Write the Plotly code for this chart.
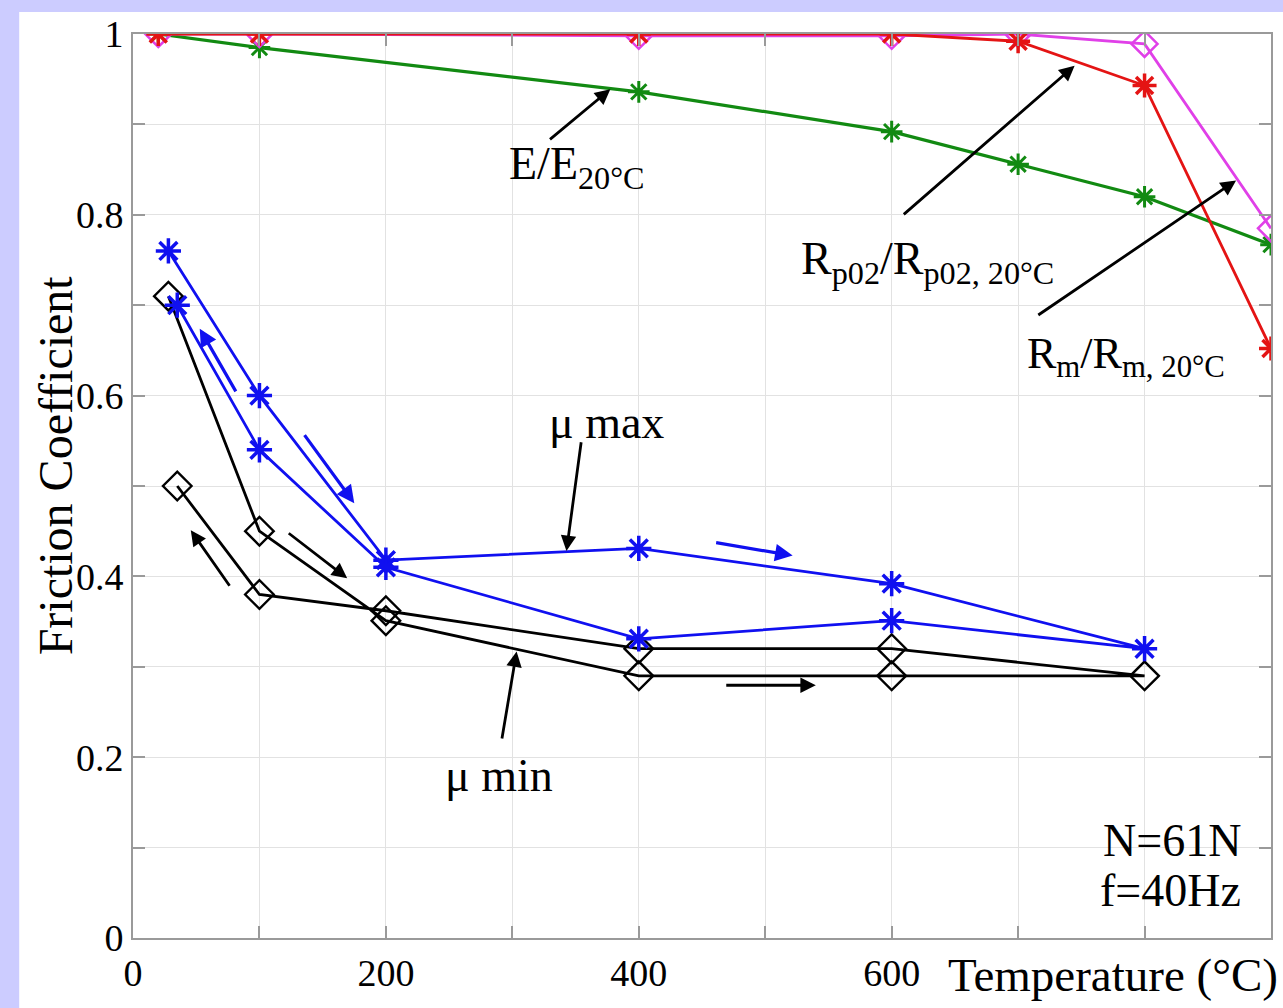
import plotly.graph_objects as go

# ---------------- data ----------------
temp_props = [20, 100, 400, 600, 700, 800, 900]
E_ratio = [1.0, 0.985, 0.936, 0.892, 0.856, 0.820, 0.767]
Rp02_ratio = [1.0, 1.0, 1.0, 1.0, 0.992, 0.943, 0.652]
Rm_ratio = [1.0, 1.0, 0.998, 0.998, 1.0, 0.989, 0.785]

mu_max_T = [28, 100, 200, 400, 600, 800, 600, 400, 200, 100, 35]
mu_max = [0.76, 0.60, 0.418, 0.431, 0.392, 0.32, 0.351, 0.331, 0.41, 0.54, 0.70]
mu_min_T = [28, 100, 200, 400, 600, 800, 600, 400, 200, 100, 35]
mu_min = [0.71, 0.45, 0.351, 0.29, 0.29, 0.29, 0.32, 0.32, 0.362, 0.38, 0.50]

x_tickvals = [0, 100, 200, 300, 400, 500, 600, 700, 800, 900]
x_ticktext = ["0", "", "200", "", "400", "", "600", "", "", ""]
y_tickvals = [0, 0.1, 0.2, 0.3, 0.4, 0.5, 0.6, 0.7, 0.8, 0.9, 1.0]
y_ticktext = ["0", "", "0.2", "", "0.4", "", "0.6", "", "0.8", "", "1"]

FONT = "Liberation Serif, Times New Roman, serif"
BLUE = "#1010f0"
GREEN = "#128a12"
RED = "#e41414"
MAGENTA = "#e040e8"
BLACK = "#000000"

fig = go.Figure()

fig.add_trace(go.Scatter(x=temp_props, y=E_ratio, mode="lines+markers",
                         line=dict(color=GREEN, width=3.2),
                         marker=dict(symbol="asterisk-open", size=18,
                                     line=dict(color=GREEN, width=3))))
fig.add_trace(go.Scatter(x=temp_props, y=Rm_ratio, mode="lines+markers",
                         line=dict(color=MAGENTA, width=2.8),
                         marker=dict(symbol="diamond-open", size=20,
                                     color=MAGENTA,
                                     line=dict(color=MAGENTA, width=2.5))))
fig.add_trace(go.Scatter(x=temp_props, y=Rp02_ratio, mode="lines+markers",
                         line=dict(color=RED, width=2.8),
                         marker=dict(symbol="asterisk-open", size=20,
                                     line=dict(color=RED, width=3.5))))
fig.add_trace(go.Scatter(x=mu_min_T, y=mu_min, mode="lines+markers",
                         line=dict(color=BLACK, width=2.8),
                         marker=dict(symbol="diamond-open", size=22,
                                     color=BLACK,
                                     line=dict(color=BLACK, width=2.4))))
fig.add_trace(go.Scatter(x=mu_max_T, y=mu_max, mode="lines+markers",
                         line=dict(color=BLUE, width=2.8),
                         marker=dict(symbol="asterisk-open", size=21,
                                     line=dict(color=BLUE, width=3.5))))

annotations = []


def arrow(x_tail, y_tail, x_head, y_head, color=BLACK, width=2.8):
    annotations.append(dict(x=x_head, y=y_head, ax=x_tail, ay=y_tail,
                            xref="x", yref="y", axref="x", ayref="y",
                            text="", showarrow=True, arrowhead=2,
                            arrowsize=1.1, arrowwidth=width,
                            arrowcolor=color, standoff=0, startstandoff=0))


def label(x, y, text, xanchor="left", size=46):
    annotations.append(dict(x=x, y=y, xref="x", yref="y", text=text,
                            showarrow=False, xanchor=xanchor, yanchor="middle",
                            font=dict(family=FONT, size=size, color=BLACK)))


# pointer arrows
arrow(328.6, 0.882, 377.5, 0.939)
arrow(608.4, 0.799, 744.7, 0.965)
arrow(714.8, 0.688, 872.4, 0.838)
arrow(354.6, 0.550, 342.8, 0.428)
arrow(291.6, 0.219, 303.4, 0.317)

# direction arrows
arrow(82, 0.603, 52.8, 0.674, BLUE, 3.2)
arrow(134.8, 0.558, 175, 0.481, BLUE, 3.2)
arrow(460, 0.4376, 521.7, 0.423, BLUE, 3.2)
arrow(77.2, 0.388, 45.7, 0.451)
arrow(122, 0.449, 169.4, 0.398)
arrow(468, 0.2796, 540, 0.2796)

# text labels
label(296, 0.853, "E/E<sub>20°C</sub>")
label(526.6, 0.748, "R<sub>p02</sub>/R<sub>p02, 20°C</sub>")
label(705.8, 0.643, "R<sub>m</sub>/R<sub>m, 20°C</sub>", size=44)
label(374.2, 0.5697, "μ max", xanchor="center")
label(289.7, 0.180, "μ min", xanchor="center")
label(877.9, 0.108, "N=61N", xanchor="right")
label(877.9, 0.053, "f=40Hz", xanchor="right")

# axis titles
annotations.append(dict(x=-0.0684, y=0.523, xref="paper", yref="paper",
                        text="Friction Coefficient", textangle=-90,
                        showarrow=False, xanchor="center", yanchor="middle",
                        font=dict(family=FONT, size=48, color=BLACK)))
annotations.append(dict(x=1.0075, y=-0.041, xref="paper", yref="paper",
                        text="Temperature (°C)", showarrow=False,
                        xanchor="right", yanchor="middle",
                        font=dict(family=FONT, size=47, color=BLACK)))

axis_common = dict(showgrid=True, gridcolor="#e2e2e2", gridwidth=1,
                   showline=True, linecolor="#9a9a9a", linewidth=2,
                   mirror="ticks", ticks="inside", ticklen=12,
                   tickwidth=2, tickcolor="#9a9a9a", zeroline=False,
                   tickfont=dict(family=FONT, size=38, color=BLACK))

fig.update_layout(
    width=1283, height=1008,
    margin=dict(l=133, r=10, t=34, b=70),
    paper_bgcolor="#ccccff",
    plot_bgcolor="white",
    showlegend=False,
    annotations=annotations,
    xaxis=dict(range=[0, 900], tickmode="array", tickvals=x_tickvals,
               ticktext=x_ticktext, **axis_common),
    yaxis=dict(range=[0, 1], tickmode="array", tickvals=y_tickvals,
               ticktext=y_ticktext, **axis_common),
    shapes=[dict(type="rect", xref="paper", yref="paper",
                 x0=(19 - 133) / 1140, x1=1.02,
                 y0=-0.08, y1=(938 - 12) / 904,
                 fillcolor="white", line=dict(width=0), layer="below")],
)

fig.write_html("out.html",
               config={"displayModeBar": False},
               post_script="document.body.style.margin='0';"
                           "document.body.style.overflow='hidden';")
